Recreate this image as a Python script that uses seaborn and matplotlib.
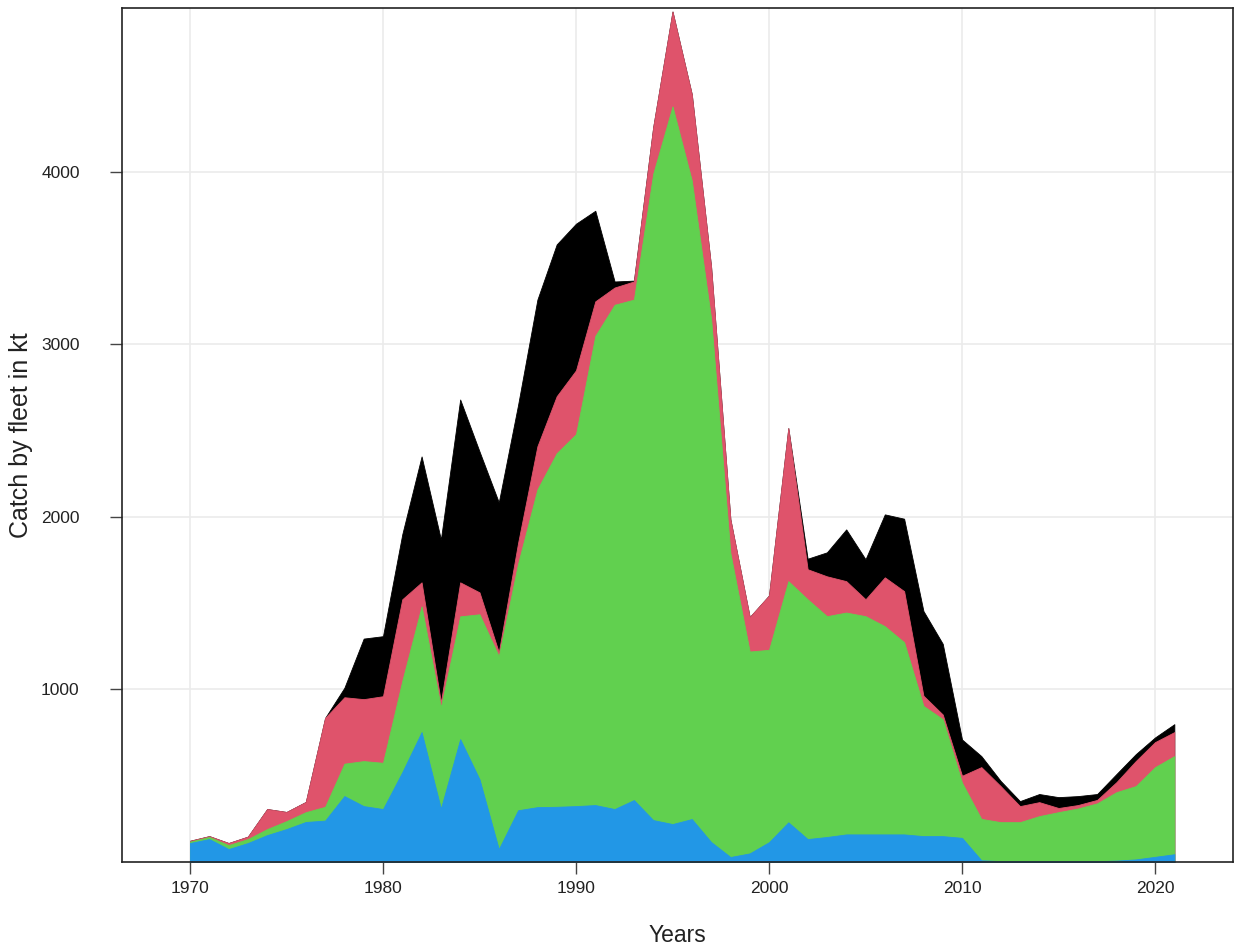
import matplotlib
matplotlib.use("Agg")
import matplotlib.pyplot as plt
import pandas as pd
import seaborn as sns
from matplotlib import font_manager

# Annual catch (kt) by fleet
years = list(range(1970, 2022))
fleet_blue = [110, 133, 75, 110, 156, 191, 232, 240, 382, 324,
              307, 521, 753, 310, 712, 480, 75, 300, 318, 320,
              324, 330, 307, 359, 243, 220, 249, 116, 29, 50,
              115, 230, 133, 145, 160, 160, 160, 160, 150, 150,
              140, 10, 5, 5, 5, 5, 5, 5, 8, 15,
              30, 45]
fleet_green = [8, 12, 23, 23, 35, 46, 57, 80, 188, 261,
               268, 529, 729, 587, 712, 956, 1118, 1430, 1842, 2050,
               2156, 2720, 2923, 2901, 3747, 4160, 3701, 3034, 1761, 1170,
               1115, 1398, 1390, 1280, 1286, 1265, 1207, 1114, 755, 678,
               320, 240, 226, 226, 261, 284, 305, 335, 397, 425,
               520, 569]
fleet_red = [5, 5, 12, 14, 116, 53, 59, 515, 385, 359,
             386, 473, 139, 29, 197, 127, 23, 120, 250, 330,
             370, 200, 100, 105, 270, 550, 500, 300, 196, 200,
             315, 887, 174, 231, 182, 98, 283, 296, 59, 27,
             40, 300, 209, 93, 81, 24, 20, 20, 58, 145,
             145, 139]
fleet_black = [0, 0, 0, 0, 0, 0, 0, 0, 55, 351,
               348, 377, 730, 944, 1060, 817, 869, 800, 850, 880,
               850, 525, 35, 5, 0, 0, 0, 0, 0, 0,
               0, 0, 61, 139, 300, 232, 365, 420, 491, 410,
               210, 64, 30, 29, 47, 63, 52, 34, 47, 40,
               27, 46]

x_ticks = [1970, 1980, 1990, 2000, 2010, 2020]
y_ticks = [1000, 2000, 3000, 4000]

sns.set_theme(style="whitegrid")
palette = sns.color_palette(["#2297E6", "#61D04F", "#DF536B", "#000000"])

installed = {f.name for f in font_manager.fontManager.ttflist}
tick_family = "Liberation Sans Narrow" if "Liberation Sans Narrow" in installed else "Liberation Sans"
plt.rcParams["font.family"] = ["Liberation Sans", "DejaVu Sans"]

df = pd.DataFrame({"Year": years, "blue": fleet_blue, "green": fleet_green,
                   "red": fleet_red, "black": fleet_black})
order = ["blue", "green", "red", "black"]
cum = df[order].cumsum(axis=1)

fig = plt.figure(figsize=(12.35, 9.46), dpi=100)
ax = fig.add_axes([0.0988, 0.0888, 0.8996, 0.9027])

# draw cumulative layers from the top down so neighbouring bands share edges
for name, color in reversed(list(zip(order, palette))):
    ax.fill_between(df["Year"], 0, cum[name], color=color, linewidth=0.6,
                    edgecolor=color, zorder=2)

ax.set_xlim(1966.48, 2024.04)
ax.set_ylim(0, 4950)
ax.set_xticks(x_ticks)
ax.set_yticks(y_ticks)
ax.grid(True, color="#EBEBEB", linewidth=1.2)
ax.set_axisbelow(True)
ax.set_facecolor("white")
for side in ["left", "right", "top", "bottom"]:
    ax.spines[side].set_visible(True)
    ax.spines[side].set_color("#222222")
    ax.spines[side].set_linewidth(1.2)

ax.tick_params(axis="x", direction="out", length=8.5, width=1, color="#444444",
               pad=5, labelsize=12.5, labelcolor="#222222", labelfontfamily=tick_family,
               bottom=True)
ax.tick_params(axis="y", direction="out", length=8.5, width=1, color="#444444",
               pad=22, labelsize=12.5, labelcolor="#222222", labelfontfamily=tick_family,
               left=True)

ax.set_xlabel("Years", fontsize=16.5, color="#222222", labelpad=20)
ax.set_ylabel("Catch by fleet in kt", fontsize=18, color="#222222", labelpad=6)

fig.savefig("out.png", dpi=100, facecolor="white")
